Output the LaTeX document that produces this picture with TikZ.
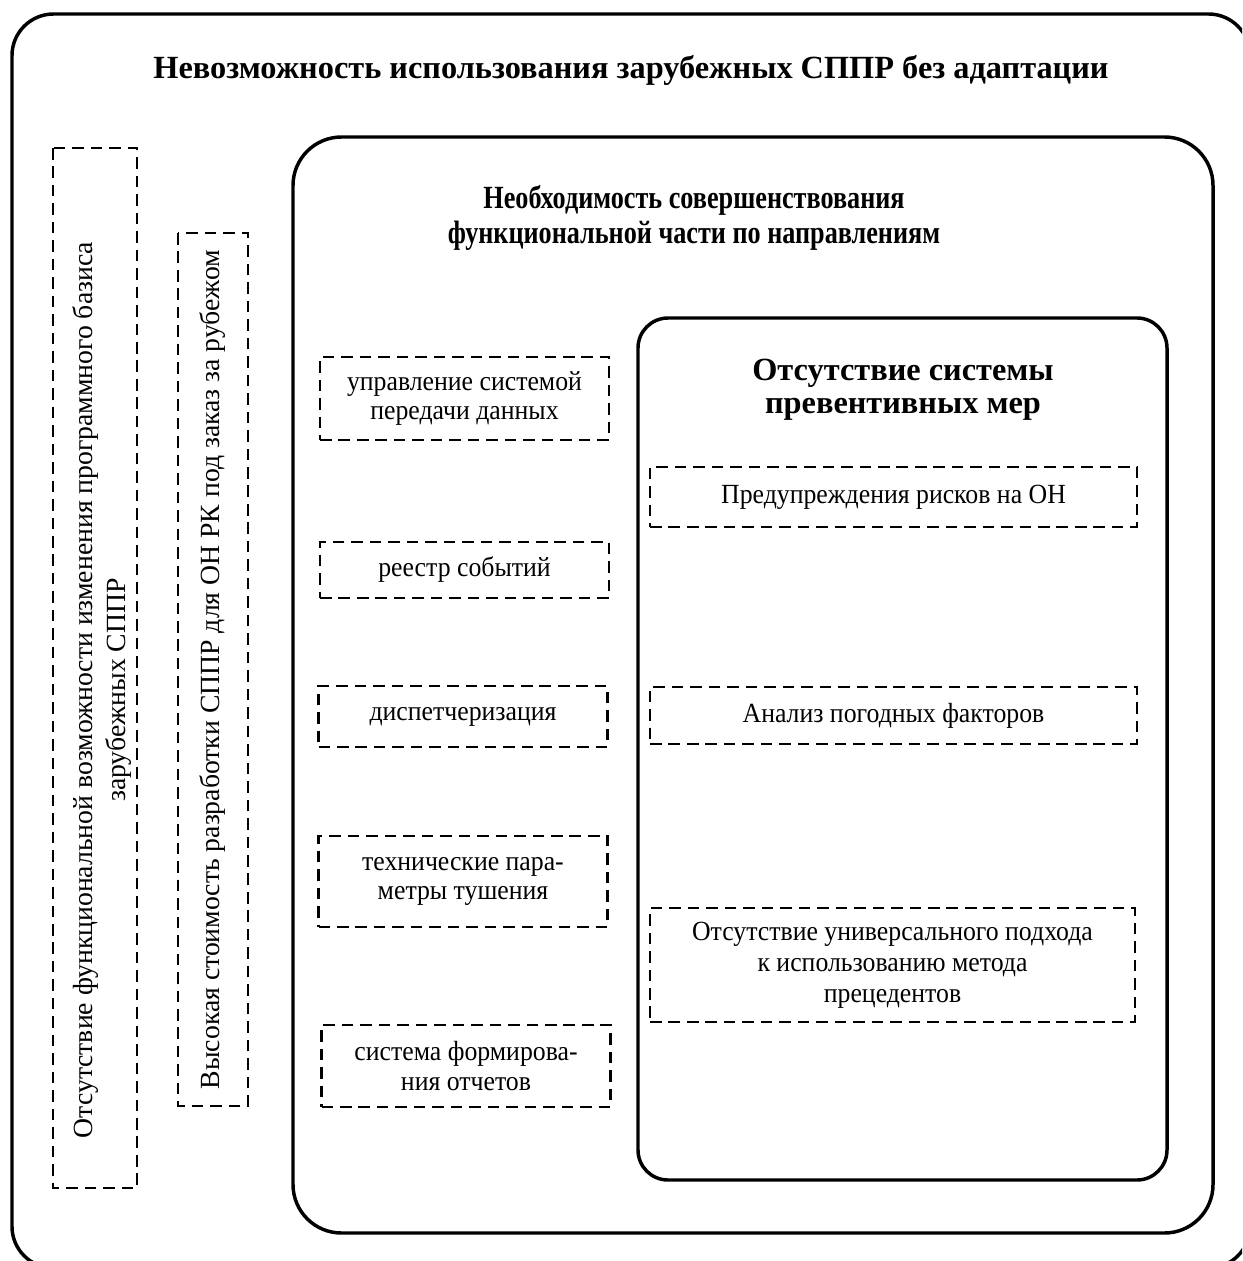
\documentclass[tikz,border=0pt]{standalone}
\usepackage{fontspec}
\setmainfont{Liberation Serif}
\newfontfamily\boxfont[FakeStretch=0.93]{Liberation Serif}
\newfontfamily\narrowfont[FakeStretch=0.81]{Liberation Serif}
\newcommand\pxu{0.433pt}
\tikzset{
  frame/.style={draw, line width=1.5pt, inner sep=0pt},
  dbox/.style={draw, dashed, dash pattern=on 5pt off 3pt, line width=1.1pt,
    inner sep=0pt, align=center, font=\boxfont\fontsize{12}{12.8}\selectfont},
  headline/.style={inner sep=0pt, align=center, font=\fontsize{14}{15}\selectfont\bfseries},
}
\begin{document}
\begin{tikzpicture}[x=\pxu, y=-\pxu]
\useasboundingbox (0,0) rectangle (1242,1261);
\clip (0,0) rectangle (1242,1261);

% nested solid frames
\node[frame, rounded corners=18pt, minimum width=1238*\pxu, minimum height=1254*\pxu]
  (outer) at (631,641) {};
\node[frame, rounded corners=21pt, minimum width=920*\pxu, minimum height=1096*\pxu]
  (func) at (753,685) {};
\node[frame, rounded corners=13pt, minimum width=529*\pxu, minimum height=862*\pxu]
  (prev) at (902.5,749) {};

% headings
\node[headline] (t1) at (631,70) {Невозможность использования зарубежных СППР без адаптации};
\node[headline, font=\narrowfont\fontsize{14}{15.5}\selectfont\bfseries] (t2) at (694,218)
  {Необходимость совершенствования\\функциональной части по направлениям};
\node[headline, font=\fontsize{14}{14.2}\selectfont\bfseries] (t3) at (903,390)
  {Отсутствие системы\\превентивных мер};

% vertical dashed boxes on the left
\node[dbox, rotate=90, minimum width=1040*\pxu, minimum height=84*\pxu] (v1) at (95,668) {};
\node[rotate=90, inner sep=0pt, align=center, font=\fontsize{12}{14.5}\selectfont]
  (v1text) at (102,690)
  {Отсутствие функциональной возможности изменения программного базиса\\зарубежных СППР};
\node[dbox, rotate=90, minimum width=873*\pxu, minimum height=70*\pxu,
  font=\fontsize{12}{12.8}\selectfont] (v2) at (213,669.5)
  {Высокая стоимость разработки СППР для ОН РК под заказ за рубежом};

% directions of improvement
\node[dbox, minimum width=289*\pxu, minimum height=83*\pxu] (d1) at (464.5,398.5)
  {управление системой\\передачи данных};
\node[dbox, minimum width=289*\pxu, minimum height=56*\pxu] (d2) at (464.5,570)
  {реестр событий};
\node[dbox, minimum width=289*\pxu, minimum height=61*\pxu] (d3) at (463,716.5)
  {диспетчеризация};
\node[dbox, minimum width=289*\pxu, minimum height=91*\pxu] (d4) at (463,881.5)
  {технические пара-\\метры тушения};
\node[dbox, minimum width=289*\pxu, minimum height=82*\pxu] (d5) at (466,1066)
  {система формирова-\\ния отчетов};

% preventive measures
\node[dbox, minimum width=487*\pxu, minimum height=60*\pxu] (p1) at (893.5,497)
  {Предупреждения рисков на ОН};
\node[dbox, minimum width=487*\pxu, minimum height=57*\pxu] (p2) at (893.5,715.5)
  {Анализ погодных факторов};
\node[dbox, minimum width=485*\pxu, minimum height=114*\pxu,
  font=\boxfont\fontsize{12}{13.5}\selectfont] (p3) at (892.5,965)
  {Отсутствие универсального подхода\\к использованию метода\\прецедентов};
\end{tikzpicture}
\end{document}
